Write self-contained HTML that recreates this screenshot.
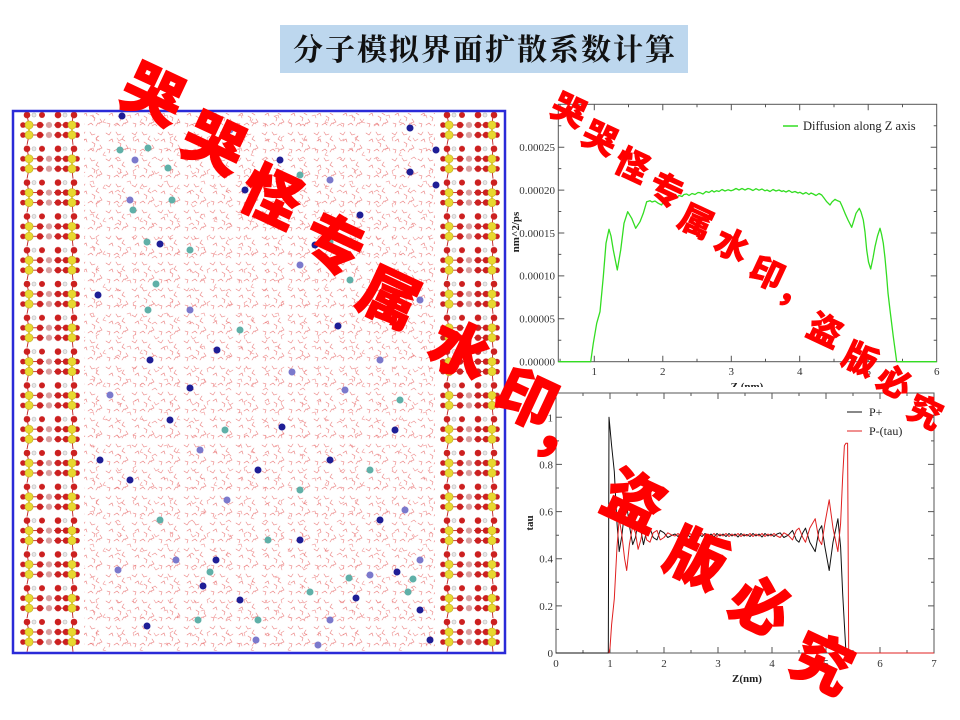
<!DOCTYPE html>
<html><head><meta charset="utf-8"><style>
html,body{margin:0;padding:0;background:#fff;}
svg{display:block;}
.tk{font-family:"Liberation Serif",serif;font-size:11px;fill:#333;}
.lb{font-family:"Liberation Serif",serif;font-size:11px;font-weight:bold;fill:#222;}
.wm{font-family:"Noto Sans CJK SC","WenQuanYi Zen Hei",sans-serif;font-weight:900;fill:#ff0000;stroke:#ff0000;text-anchor:middle;dominant-baseline:central;}
</style></head><body>
<svg width="960" height="720" viewBox="0 0 960 720" xmlns="http://www.w3.org/2000/svg">
<defs>
<pattern id="w1" width="26" height="26" patternUnits="userSpaceOnUse">
<g stroke="#e45a5a" stroke-width="0.6" fill="none" stroke-linecap="round" opacity="0.8">
<path d="M2 3l3 2l2 -3"/><path d="M12 2l2 3l3 -1"/><path d="M20 6l-2 3l3 2"/>
<path d="M5 11l3 -2l1 3"/><path d="M14 12l3 2l-1 3"/><path d="M22 15l2 3l-3 1"/>
<path d="M3 19l3 1l-1 3"/><path d="M10 21l3 -2l2 2"/><path d="M18 22l2 -3l2 1"/>
</g></pattern>
<pattern id="w2" width="37" height="33" patternUnits="userSpaceOnUse">
<g stroke="#ea7070" stroke-width="0.55" fill="none" stroke-linecap="round" opacity="0.8">
<path d="M6 6l2 3l3 -2"/><path d="M25 4l-3 2l1 3"/><path d="M16 17l3 -1l1 3"/>
<path d="M31 20l-2 3l3 1"/><path d="M4 27l3 -2l2 2"/>
</g></pattern>
<pattern id="slab" width="60" height="33.8" patternUnits="userSpaceOnUse">
<g stroke="#c02020" stroke-width="0.9">
<line x1="3" y1="14" x2="14" y2="14"/><line x1="46" y1="14" x2="57" y2="14"/>
<line x1="3" y1="24" x2="14" y2="24"/><line x1="46" y1="24" x2="57" y2="24"/>
<line x1="14" y1="14" x2="24" y2="14"/><line x1="34" y1="14" x2="46" y2="14"/>
<line x1="14" y1="24" x2="24" y2="24"/><line x1="34" y1="24" x2="46" y2="24"/>
<line x1="7" y1="4" x2="9" y2="14"/><line x1="53" y1="4" x2="52" y2="14"/>
<line x1="9" y1="24" x2="7" y2="34"/><line x1="52" y1="24" x2="53" y2="34"/>
</g>
<g stroke="#d8c020" stroke-width="1.6"><line x1="9" y1="14" x2="9" y2="24"/><line x1="52" y1="14" x2="52" y2="24"/></g>
<g fill="#cc2020">
<circle cx="7" cy="4" r="3.3"/><circle cx="22" cy="4" r="3"/><circle cx="38" cy="4" r="3.3"/><circle cx="54" cy="4" r="3.3"/>
<circle cx="3" cy="14" r="2.8"/><circle cx="20" cy="14" r="3.2"/><circle cx="38" cy="14" r="3.2"/><circle cx="46" cy="14" r="3.2"/><circle cx="57" cy="14" r="2.8"/>
<circle cx="3" cy="24" r="2.8"/><circle cx="20" cy="24" r="3.2"/><circle cx="38" cy="24" r="3.2"/><circle cx="46" cy="24" r="3.2"/><circle cx="57" cy="24" r="2.8"/>
</g>
<g fill="#e8e8e8" stroke="#999" stroke-width="0.4"><circle cx="14" cy="4" r="2"/><circle cx="45" cy="4" r="2"/></g>
<g fill="#d8a0a0"><circle cx="29" cy="14" r="3.1"/><circle cx="29" cy="24" r="3.1"/></g>
<g fill="#e8d830" stroke="#b8a010" stroke-width="0.5"><circle cx="9" cy="14" r="4.1"/><circle cx="52" cy="14" r="4.1"/><circle cx="9" cy="24" r="4.1"/><circle cx="52" cy="24" r="4.1"/></g>
</pattern>
</defs>

<!-- Title -->
<rect x="280" y="25" width="408" height="48" fill="#bdd7ee"/>
<text x="485" y="60" text-anchor="middle" font-family="'Noto Serif CJK SC','Noto Sans CJK SC',serif" font-weight="bold" font-size="30" letter-spacing="2" fill="#111">分子模拟界面扩散系数计算</text>

<!-- Simulation box -->
<rect x="13" y="111" width="492" height="542" fill="#fff"/>
<rect x="84" y="113" width="351" height="538" fill="url(#w1)"/>
<rect x="84" y="113" width="351" height="538" fill="url(#w2)"/>
<g transform="translate(20,111)"><rect x="0" y="0" width="60" height="541" fill="url(#slab)"/></g>
<g transform="translate(440,111)"><rect x="0" y="0" width="60" height="541" fill="url(#slab)"/></g>
<g fill="#1e1e96">
<circle cx="122" cy="116" r="3.5"/><circle cx="160" cy="244" r="3.5"/><circle cx="98" cy="295" r="3.5"/><circle cx="315" cy="245" r="3.5"/><circle cx="410" cy="128" r="3.5"/><circle cx="338" cy="326" r="3.5"/><circle cx="217" cy="350" r="3.5"/><circle cx="190" cy="388" r="3.5"/><circle cx="282" cy="427" r="3.5"/><circle cx="410" cy="172" r="3.5"/><circle cx="130" cy="480" r="3.5"/><circle cx="216" cy="560" r="3.5"/><circle cx="300" cy="540" r="3.5"/><circle cx="397" cy="572" r="3.5"/><circle cx="356" cy="598" r="3.5"/><circle cx="240" cy="600" r="3.5"/><circle cx="147" cy="626" r="3.5"/><circle cx="203" cy="586" r="3.5"/><circle cx="380" cy="520" r="3.5"/><circle cx="330" cy="460" r="3.5"/><circle cx="258" cy="470" r="3.5"/><circle cx="170" cy="420" r="3.5"/><circle cx="100" cy="460" r="3.5"/><circle cx="430" cy="640" r="3.5"/><circle cx="420" cy="610" r="3.5"/><circle cx="280" cy="160" r="3.5"/><circle cx="360" cy="215" r="3.5"/><circle cx="245" cy="190" r="3.5"/><circle cx="150" cy="360" r="3.5"/><circle cx="395" cy="430" r="3.5"/><circle cx="436" cy="150" r="3.5"/><circle cx="436" cy="185" r="3.5"/>
</g>
<g fill="#7b79cc">
<circle cx="135" cy="160" r="3.5"/><circle cx="300" cy="265" r="3.5"/><circle cx="130" cy="200" r="3.5"/><circle cx="230" cy="130" r="3.5"/><circle cx="260" cy="180" r="3.5"/><circle cx="118" cy="570" r="3.5"/><circle cx="176" cy="560" r="3.5"/><circle cx="318" cy="645" r="3.5"/><circle cx="256" cy="640" r="3.5"/><circle cx="330" cy="620" r="3.5"/><circle cx="370" cy="575" r="3.5"/><circle cx="420" cy="560" r="3.5"/><circle cx="405" cy="510" r="3.5"/><circle cx="345" cy="390" r="3.5"/><circle cx="190" cy="310" r="3.5"/><circle cx="227" cy="500" r="3.5"/><circle cx="292" cy="372" r="3.5"/><circle cx="110" cy="395" r="3.5"/><circle cx="380" cy="360" r="3.5"/><circle cx="330" cy="180" r="3.5"/><circle cx="420" cy="300" r="3.5"/><circle cx="200" cy="450" r="3.5"/>
</g>
<g fill="#5fb0a8">
<circle cx="120" cy="150" r="3.5"/><circle cx="148" cy="148" r="3.5"/><circle cx="168" cy="168" r="3.5"/><circle cx="172" cy="200" r="3.5"/><circle cx="133" cy="210" r="3.5"/><circle cx="147" cy="242" r="3.5"/><circle cx="148" cy="310" r="3.5"/><circle cx="156" cy="284" r="3.5"/><circle cx="330" cy="242" r="3.5"/><circle cx="300" cy="175" r="3.5"/><circle cx="198" cy="620" r="3.5"/><circle cx="210" cy="572" r="3.5"/><circle cx="258" cy="620" r="3.5"/><circle cx="310" cy="592" r="3.5"/><circle cx="349" cy="578" r="3.5"/><circle cx="413" cy="579" r="3.5"/><circle cx="408" cy="592" r="3.5"/><circle cx="268" cy="540" r="3.5"/><circle cx="160" cy="520" r="3.5"/><circle cx="225" cy="430" r="3.5"/><circle cx="300" cy="490" r="3.5"/><circle cx="370" cy="470" r="3.5"/><circle cx="350" cy="280" r="3.5"/><circle cx="240" cy="330" r="3.5"/><circle cx="190" cy="250" r="3.5"/><circle cx="400" cy="400" r="3.5"/>
</g>
<rect x="13" y="111" width="492" height="542" fill="none" stroke="#2a2ad8" stroke-width="2.5"/>

<!-- Top chart -->
<rect x="510" y="88" width="440" height="300" fill="#fff"/>
<rect x="558.3" y="104.3" width="378.4" height="257.4" fill="none" stroke="#555" stroke-width="1"/>
<g stroke="#555" stroke-width="1">
<path d="M594.3 361.7v-6M662.8 361.7v-6M731.3 361.7v-6M799.7 361.7v-6M868.2 361.7v-6M594.3 104.3v6M662.8 104.3v6M731.3 104.3v6M799.7 104.3v6M868.2 104.3v6"/>
<path d="M560.1 361.7v-3M628.5 361.7v-3M697 361.7v-3M765.5 361.7v-3M834 361.7v-3M902.5 361.7v-3M560.1 104.3v3M628.5 104.3v3M697 104.3v3M765.5 104.3v3M834 104.3v3M902.5 104.3v3"/>
<path d="M558.3 318.8h6M558.3 275.9h6M558.3 233h6M558.3 190.1h6M558.3 147.2h6M936.7 318.8h-6M936.7 275.9h-6M936.7 233h-6M936.7 190.1h-6M936.7 147.2h-6"/>
<path d="M558.3 340.2h3M558.3 297.3h3M558.3 254.4h3M558.3 211.5h3M558.3 168.6h3M558.3 125.7h3M936.7 340.2h-3M936.7 297.3h-3M936.7 254.4h-3M936.7 211.5h-3M936.7 168.6h-3M936.7 125.7h-3"/>
</g>
<g class="tk" text-anchor="end">
<text x="555" y="365.5">0.00000</text><text x="555" y="322.6">0.00005</text><text x="555" y="279.7">0.00010</text><text x="555" y="236.8">0.00015</text><text x="555" y="193.9">0.00020</text><text x="555" y="151">0.00025</text>
</g>
<g class="tk" text-anchor="middle">
<text x="594.3" y="375">1</text><text x="662.8" y="375">2</text><text x="731.3" y="375">3</text><text x="799.7" y="375">4</text><text x="868.2" y="375">5</text><text x="936.7" y="375">6</text>
</g>
<text class="lb" x="747" y="390" text-anchor="middle">Z (nm)</text>
<text class="lb" transform="translate(519,232) rotate(-90)" text-anchor="middle">nm^2/ps</text>
<line x1="783" y1="126" x2="798" y2="126" stroke="#33dd22" stroke-width="1.5"/>
<text x="803" y="130" font-family="'Liberation Serif',serif" font-size="12.5" fill="#222">Diffusion along Z axis</text>
<polyline fill="none" stroke="#33dd22" stroke-width="1.3" stroke-linejoin="round" points="558.3,361.7 590.7,361.7 593.3,343.3 596.7,323.3 600,311.7 603.3,276.7 606,243.3 609,229.3 611,236 613.3,250 617.3,270 620.7,250 624,223.3 627.7,211.7 631.7,218.3 635.7,228.3 640,221.7 643.3,213.3 646.7,201.7 650,200.7 652,202 655,201 658.3,203.3 661.7,205 664,200 666.7,198.3 669,199.5 671,197 673.3,196.7 676,198 679,195.5 682,196.5 684,194.5 686.7,194 689,195.5 692,193.5 695,194.5 698,192.5 700,192.7 703,194 706,191.5 709,192.5 712,190.5 714,192 716.7,190.7 719,191.5 722,189.5 725,191 728,189.8 731,190.8 733.3,190 736,188.5 739,190 742,188.5 745,190 748,188.5 750,189 753,190.5 756,188.7 759,190.2 762,189 765,190.8 767,190 770,191.5 773,189.5 776,191 779,190 782,191.5 783.3,190.7 786,192 789,190.5 792,192.5 795,191.5 798,193 800,192.3 803,194 806,192.5 809,194.5 811,193 813.3,194 816,195.5 819,193.5 821.7,195 824,198 826.7,201.7 830,205 832,202 835,199.3 837,200.5 840,201.7 842,206 845,213.3 848,220 851.7,227.3 854,220 856,213.3 859.3,208.3 861,212 863.3,220 865,232 866.7,250 868.5,262 870.7,269 873,258 875,246.7 877.5,236 880,228.3 881.5,234 883.3,243.3 885,258 886.7,276.7 888,293 890,310 893.3,336.7 896.7,361.7 936.7,361.7"/>

<!-- Bottom chart -->
<rect x="510" y="387" width="440" height="303" fill="#fff"/>
<rect x="556" y="393" width="378" height="260" fill="none" stroke="#555" stroke-width="1"/>
<g stroke="#555" stroke-width="1">
<path d="M610 653v-6M664 653v-6M718 653v-6M772 653v-6M826 653v-6M880 653v-6M610 393v6M664 393v6M718 393v6M772 393v6M826 393v6M880 393v6"/>
<path d="M583 653v-3M637 653v-3M691 653v-3M745 653v-3M799 653v-3M853 653v-3M907 653v-3M583 393v3M637 393v3M691 393v3M745 393v3M799 393v3M853 393v3M907 393v3"/>
<path d="M556 605.9h6M556 558.7h6M556 511.6h6M556 464.4h6M556 417.3h6M934 605.9h-6M934 558.7h-6M934 511.6h-6M934 464.4h-6M934 417.3h-6"/>
<path d="M556 629.4h3M556 582.3h3M556 535.2h3M556 488h3M556 440.9h3M934 629.4h-3M934 582.3h-3M934 535.2h-3M934 488h-3M934 440.9h-3"/>
</g>
<g class="tk" text-anchor="end">
<text x="553" y="657">0</text><text x="553" y="609.9">0.2</text><text x="553" y="562.7">0.4</text><text x="553" y="515.6">0.6</text><text x="553" y="468.4">0.8</text><text x="553" y="421.3">1</text>
</g>
<g class="tk" text-anchor="middle">
<text x="556" y="667">0</text><text x="610" y="667">1</text><text x="664" y="667">2</text><text x="718" y="667">3</text><text x="772" y="667">4</text><text x="826" y="667">5</text><text x="880" y="667">6</text><text x="934" y="667">7</text>
</g>
<text class="lb" x="747" y="682" text-anchor="middle">Z(nm)</text>
<text class="lb" transform="translate(533,523) rotate(-90)" text-anchor="middle">tau</text>
<line x1="847" y1="412" x2="862" y2="412" stroke="#111" stroke-width="1"/>
<text x="869" y="416" font-family="'Liberation Serif',serif" font-size="12" fill="#222">P+</text>
<line x1="847" y1="431" x2="862" y2="431" stroke="#e02020" stroke-width="1"/>
<text x="869" y="435" font-family="'Liberation Serif',serif" font-size="12" fill="#222">P-(tau)</text>
<polyline fill="none" stroke="#111" stroke-width="1" stroke-linejoin="round" points="556,653 608.3,653 609,417.3 611.6,445.6 614.3,471.5 617,523.4 619.2,551.6 621.9,535.2 624.6,511.6 626.7,504.5 629.4,525.7 632.7,544.6 635.4,537.5 638.1,521 640.8,530.4 643.5,544.6 646.7,530.4 650,528.1 653.2,537.5 657,539.9 660.2,530.4 664,532.8 667.8,537.5 672.1,535.2 675,534 678,536.5 681,533.5 684,536 687,534 690,537 693,533.5 696,536 699,534.5 702,536.5 705,533.5 708,536 711,534 714,537 717,533.5 720,536 723,534 726,536.5 729,533.5 732,536 735,534 738,537 741,533.5 744,536 747,534.5 750,536.5 753,533.5 756,536 759,534 762,537 765,533.5 768,536 771,534 774,536.5 777,534 780.1,532.8 783.9,537.5 788.2,535.2 792.5,530.4 796.3,539.9 799,542.2 802.8,532.8 805.5,528.1 809.8,542.2 815.2,551.6 819,530.4 821.7,525.7 824.9,546.9 829.2,570.5 833,542.2 837.9,518.7 840.6,546.9 842.7,594.1 844.4,624.7 846,653 934,653"/>
<polyline fill="none" stroke="#e02020" stroke-width="1" stroke-linejoin="round" points="608.9,653 610,648 611.6,624.7 614.3,598.8 617,546.9 619.2,518.7 621.9,535.2 624.6,558.7 626.7,570.5 629.4,544.6 632.7,525.7 635.4,532.8 638.1,549.3 640.8,539.9 643.5,525.7 646.7,539.9 650,542.2 653.2,532.8 657,530.4 660.2,539.9 664,537.5 667.8,532.8 672.1,535.2 675,536 678,533.5 681,536.5 684,534 687,536 690,533.5 693,536.5 696,534 699,536 702,533.5 705,536.5 708,534 711,536 714,533.5 717,536.5 720,534 723,536 726,533.5 729,536.5 732,534 735,536 738,533.5 741,536.5 744,534 747,536 750,533.5 753,536.5 756,534 759,536 762,533.5 765,536.5 768,534 771,536 774,533.5 777,536 780.1,537.5 783.9,532.8 788.2,535.2 792.5,539.9 796.3,530.4 799,528.1 802.8,537.5 805.5,542.2 809.8,528.1 815.2,518.7 819,539.9 821.7,544.6 824.9,523.4 829.2,499.8 833,528.1 837.9,551.6 840.6,523.4 842.7,476.2 844.4,445.6 846,443.2 847.6,443.2 848.7,653 934,653"/>

<!-- Watermark large -->
<g class="wm" font-size="60" stroke-width="1">
<text transform="translate(155,91) rotate(25)">哭</text>
<text transform="translate(216,140) rotate(25)">哭</text>
<text transform="translate(273,193) rotate(25)">怪</text>
<text transform="translate(335,241) rotate(25)">专</text>
<text transform="translate(391,294) rotate(25)">属</text>
<text transform="translate(462,347) rotate(25)">水</text>
<text transform="translate(528,395) rotate(25)">印</text>
<text transform="translate(568,432) rotate(25)">，</text>
<text transform="translate(636,497) rotate(25)">盗</text>
<text transform="translate(698,555) rotate(25)">版</text>
<text transform="translate(762,603) rotate(25)">必</text>
<text transform="translate(824,660) rotate(25)">究</text>
</g>
<!-- Watermark small -->
<g class="wm" font-size="34" stroke-width="0.6">
<text transform="translate(570,108) rotate(25)">哭</text>
<text transform="translate(601,136) rotate(25)">哭</text>
<text transform="translate(633,163) rotate(25)">怪</text>
<text transform="translate(667,188) rotate(25)">专</text>
<text transform="translate(697,219) rotate(25)">属</text>
<text transform="translate(733,243) rotate(25)">水</text>
<text transform="translate(768,271) rotate(25)">印</text>
<text transform="translate(797,291) rotate(25)">，</text>
<text transform="translate(826,328) rotate(25)">盗</text>
<text transform="translate(861,357) rotate(25)">版</text>
<text transform="translate(895,380) rotate(25)">必</text>
<text transform="translate(926,410) rotate(25)">究</text>
</g>
</svg>
</body></html>
